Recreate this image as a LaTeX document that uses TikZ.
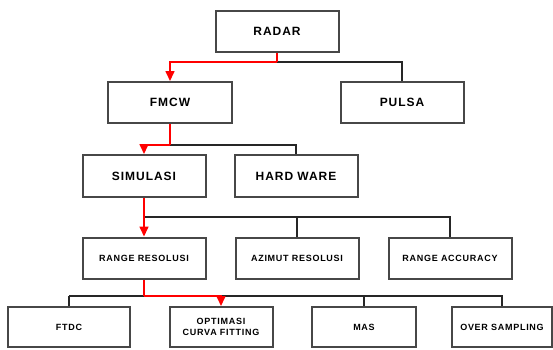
\documentclass[tikz,border=0pt]{standalone}
\usepackage{fontspec}
\setmainfont{Liberation Sans}
\newfontfamily\boxfont[LetterSpace=8]{Liberation Sans}
\usepackage{xcolor}
\usepackage{tikz}
\usetikzlibrary{arrows.meta}

\begin{document}
\begin{tikzpicture}[x=1pt,y=-1pt]
		\tikzstyle{level_box}=[draw=black!72, line width=2pt, fill=white, inner sep=0pt, minimum height=41pt, minimum width=123pt, align=center, font=\boxfont\bfseries\fontsize{12}{13}\selectfont]
		\tikzstyle{small_box}=[level_box, minimum height=40pt, font=\boxfont\bfseries\fontsize{9}{11}\selectfont]
		\tikzstyle{link}=[draw=black!85, line width=1.6pt]
		\tikzstyle{link_main}=[draw=red, line width=1.6pt]
		\tikzstyle{to_box}=[link_main, -{Triangle[width=9pt,length=10pt]}]

		\useasboundingbox (0,0) rectangle (553,349);

		% level 1
		\node [level_box] (radar) at (277,31.5) {RADAR};
		% level 2
		\node [level_box, minimum width=124pt] (fmcw) at (170,102.5) {FMCW};
		\node [level_box] (pulsa) at (402,102.5) {PULSA};
		% level 3
		\node [level_box, minimum height=42pt] (simulasi) at (144,176) {SIMULASI};
		\node [level_box, minimum height=42pt] (hardware) at (296,176) {HARD WARE};
		% level 4
		\node [small_box, minimum height=41pt] (range_res) at (144,258) {RANGE RESOLUSI};
		\node [small_box, minimum height=41pt] (azimut_res) at (297,258) {AZIMUT RESOLUSI};
		\node [small_box, minimum height=41pt] (range_acc) at (450,258) {RANGE ACCURACY};
		% level 5
		\node [small_box, minimum width=122pt] (ftdc) at (69,327) {FTDC};
		\node [small_box, minimum width=103pt] (optimasi) at (221,327) {OPTIMASI\\CURVA FITTING};
		\node [small_box, minimum width=104pt] (mas) at (364,327) {MAS};
		\node [small_box, minimum width=100pt] (oversampling) at (502,327) {OVER SAMPLING};

		% branch points
		\coordinate (b1) at (277,62);
		\coordinate (b2) at (170,145);
		\coordinate (b3) at (144,217);
		\coordinate (b4) at (144,296);
		\coordinate (b5) at (69,296);

		% black branches
		\draw [link] (b1) -| (pulsa.north);
		\draw [link] (b2) -| (hardware.north);
		\draw [link] (b3) -| (azimut_res.north);
		\draw [link] (b3) -| (range_acc.north);
		\draw [link] (b5) -- (b4) -| (mas.north);
		\draw [link] (b4) -| (oversampling.north);
		\draw [link] (b5) -- (ftdc.north);

		% red path
		\draw [link_main] (radar.south) -- (b1);
		\draw [to_box] (b1) -| (fmcw.north);
		\draw [link_main] (fmcw.south) -- (b2);
		\draw [to_box] (b2) -| (simulasi.north);
		\draw [to_box] (simulasi.south) -- (range_res.north);
		\draw [link_main] (range_res.south) -- (b4);
		\draw [to_box] (b4) -| (optimasi.north);

	\end{tikzpicture}
\end{document}
